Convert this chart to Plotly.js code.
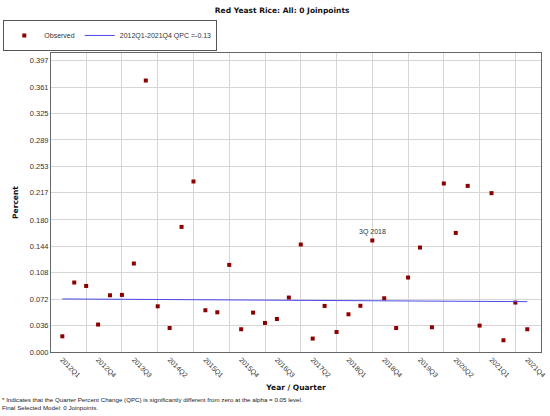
<!DOCTYPE html>
<html>
<head>
<meta charset="utf-8">
<script src="https://cdn.plot.ly/plotly-3.0.1.min.js"></script>
<style>
  html, body { margin: 0; padding: 0; background: #fff; }
  #myDiv { width: 550px; height: 416px; }
</style>
</head>
<body>
<div id="myDiv"></div>
<script>
var quarters = [
  '2012Q1', '2012Q2', '2012Q3', '2012Q4', '2013Q1', '2013Q2', '2013Q3', '2013Q4',
  '2014Q1', '2014Q2', '2014Q3', '2014Q4', '2015Q1', '2015Q2', '2015Q3', '2015Q4',
  '2016Q1', '2016Q2', '2016Q3', '2016Q4', '2017Q1', '2017Q2', '2017Q3', '2017Q4',
  '2018Q1', '2018Q2', '2018Q3', '2018Q4', '2019Q1', '2019Q2', '2019Q3', '2019Q4',
  '2020Q1', '2020Q2', '2020Q3', '2020Q4', '2021Q1', '2021Q2', '2021Q3', '2021Q4'
];

var observed = [
  0.0214, 0.0947, 0.0900, 0.0374, 0.0773, 0.0778, 0.1206, 0.3700,
  0.0623, 0.0327, 0.1705, 0.2324, 0.0569, 0.0541, 0.1187, 0.0310,
  0.0537, 0.0396, 0.0450, 0.0742, 0.1465, 0.0183, 0.0628, 0.0273,
  0.0514, 0.0630, 0.1520, 0.0732, 0.0327, 0.1015, 0.1424, 0.0337,
  0.2297, 0.1623, 0.2264, 0.0360, 0.2165, 0.0160, 0.0674, 0.0310
];

// fitted segment, endpoints only
var trendX = ['2012Q1', '2021Q4'];
var trendY = [0.0723, 0.0686];

var labelTicks = ['2012Q1', '2012Q4', '2013Q3', '2014Q2', '2015Q1', '2015Q4', '2016Q3',
  '2017Q2', '2018Q1', '2018Q4', '2019Q3', '2020Q2', '2021Q1', '2021Q4'];
var gridTicks = ['2012Q3', '2013Q2', '2014Q1', '2014Q4', '2015Q3', '2016Q2', '2017Q1',
  '2017Q4', '2018Q3', '2019Q2', '2020Q1', '2020Q4', '2021Q3'];

var yTicks = [0, 0.036, 0.072, 0.108, 0.144, 0.180, 0.217, 0.253, 0.289, 0.325, 0.361, 0.397];
var yTickText = ['0.000', '0.036', '0.072', '0.108', '0.144', '0.180', '0.217', '0.253',
  '0.289', '0.325', '0.361', '0.397'];

var noteQuarter = '2018Q3';
var noteText = '3Q 2018';

var sans = 'Liberation Sans, Arial, sans-serif';
var bold = 'DejaVu Sans, Verdana, sans-serif';

var obsTrace = {
  x: quarters,
  y: observed,
  type: 'scatter',
  mode: 'markers',
  name: 'Observed',
  marker: { symbol: 'square', size: 4, color: '#8b0000' }
};

var trendTrace = {
  x: trendX,
  y: trendY,
  xaxis: 'x2',
  type: 'scatter',
  mode: 'lines',
  name: '2012Q1-2021Q4 QPC =-0.13',
  line: { color: '#4a4ae6', width: 1 }
};

var layout = {
  width: 550,
  height: 416,
  margin: { l: 51, r: 9, t: 53, b: 64, autoexpand: false },
  paper_bgcolor: '#fff',
  plot_bgcolor: '#fff',
  font: { family: sans, size: 7.5, color: '#222' },
  title: {
    text: '<b>Red Yeast Rice: All: 0 Joinpoints</b>',
    font: { family: bold, size: 7.5, color: '#111' },
    x: 0.513, xanchor: 'center', y: 0.976, yanchor: 'middle'
  },
  showlegend: true,
  legend: {
    orientation: 'h',
    xref: 'container', yref: 'container',
    x: 0.006, y: 0.952, xanchor: 'left', yanchor: 'top',
    bordercolor: '#555', borderwidth: 1,
    font: { family: sans, size: 7, color: '#333' },
    itemwidth: 30, tracegroupgap: 0
  },
  xaxis: {
    type: 'category',
    categoryorder: 'array', categoryarray: quarters,
    range: [-0.95, 40.15],
    automargin: false,
    tickvals: labelTicks, ticktext: labelTicks,
    tickangle: 45,
    ticks: '',
    showgrid: false,
    zeroline: false,
    showline: true, mirror: true, linecolor: '#666', linewidth: 1,
    tickfont: { family: sans, size: 7, color: '#333' },
    title: {
      text: '<b>Year / Quarter</b>',
      font: { family: bold, size: 7.5, color: '#111' },
      standoff: 6
    }
  },
  xaxis2: {
    type: 'category',
    categoryorder: 'array', categoryarray: quarters,
    overlaying: 'x',
    side: 'bottom',
    range: [-0.95, 40.15],
    automargin: false,
    tickvals: gridTicks,
    showticklabels: false,
    ticks: '',
    showgrid: true, gridcolor: '#d6d6d6', gridwidth: 1,
    zeroline: false
  },
  yaxis: {
    range: [0, 0.4075],
    automargin: false,
    tickvals: yTicks, ticktext: yTickText,
    ticks: '',
    showgrid: true, gridcolor: '#d6d6d6', gridwidth: 1,
    zeroline: false,
    showline: true, mirror: true, linecolor: '#666', linewidth: 1,
    tickfont: { family: sans, size: 7.5, color: '#333' },
    title: {
      text: '<b>Percent</b>',
      font: { family: bold, size: 7.5, color: '#111' },
      standoff: 10
    }
  },
  annotations: [
    {
      x: noteQuarter, y: observed[quarters.indexOf(noteQuarter)],
      xref: 'x', yref: 'y',
      text: noteText, showarrow: false,
      yanchor: 'bottom', yshift: 2,
      font: { family: sans, size: 7, color: '#333' }
    },
    {
      xref: 'paper', yref: 'paper',
      x: -51 / 490, y: -(403 - 352) / 299,
      xanchor: 'left', yanchor: 'middle', showarrow: false, align: 'left',
      text: '* Indicates that the Quarter Percent Change (QPC) is significantly different from zero at the alpha = 0.05 level.<br>Final Selected Model: 0 Joinpoints.',
      font: { family: sans, size: 6.2, color: '#222' }
    }
  ]
};

Plotly.newPlot('myDiv', [obsTrace, trendTrace], layout, { displayModeBar: false, staticPlot: true });
</script>
</body>
</html>
